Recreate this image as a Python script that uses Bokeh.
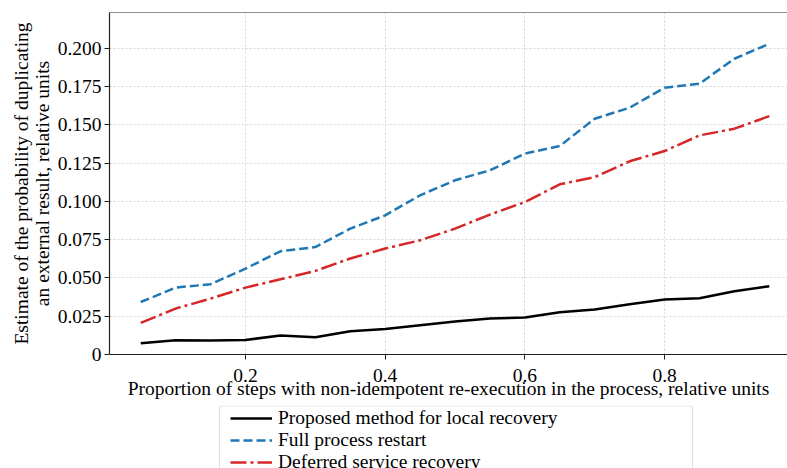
from bokeh.plotting import figure
from bokeh.layouts import column
from bokeh.models import (Range1d, FixedTicker, Legend, LegendItem, Span, PrintfTickFormatter,
                          BoxAnnotation)
from bokeh.embed import file_html
from bokeh.resources import INLINE

share = [0.05, 0.10, 0.15, 0.20, 0.25, 0.30, 0.35, 0.40, 0.45, 0.50,
         0.55, 0.60, 0.65, 0.70, 0.75, 0.80, 0.85, 0.90, 0.95]
proposed = [0.0074, 0.0093, 0.0091, 0.0095, 0.0124, 0.0113, 0.0152, 0.0167, 0.0191, 0.0215,
            0.0235, 0.0241, 0.0276, 0.0294, 0.0328, 0.0359, 0.0367, 0.0413, 0.0446]
full_restart = [0.0343, 0.0437, 0.0459, 0.0561, 0.0674, 0.0702, 0.0822, 0.0909, 0.1040, 0.1138,
                0.1203, 0.1312, 0.1362, 0.1540, 0.1612, 0.1743, 0.1769, 0.1932, 0.2030]
deferred = [0.0206, 0.0300, 0.0365, 0.0437, 0.0491, 0.0546, 0.0627, 0.0692, 0.0746, 0.0822,
            0.0914, 0.0996, 0.1112, 0.1159, 0.1262, 0.1329, 0.1431, 0.1475, 0.1557]
series_names = ["Proposed method for local recovery", "Full process restart", "Deferred service recovery"]
x_ticks = [0.2, 0.4, 0.6, 0.8]
y_ticks = [0.0, 0.025, 0.05, 0.075, 0.1, 0.125, 0.15, 0.175, 0.2]
x_title = "Proportion of steps with non-idempotent re-execution in the process, relative units"
y_title = "Estimate of the probability of duplicating\nan external result, relative units"

FONT = "Liberation Serif"
FS = "19.5px"
colors = ["black", "#1f77b4", "#d62728"]
dashes = ["solid", "9 4", "16 4 3 4"]
series = [proposed, full_restart, deferred]

# ---- main plot ----
p = figure(width=787, height=405, output_backend="svg", toolbar_location=None,
           x_range=Range1d(0.0053, 0.976), y_range=Range1d(0, 0.2234),
           min_border_left=109, min_border_right=0, min_border_top=12, min_border_bottom=51)
p.outline_line_color = None

for ys, c, d in zip(series, colors, dashes):
    p.line(share, ys, line_color=c, line_width=2.5, line_dash=d)

for ax in (p.xaxis[0], p.yaxis[0]):
    ax.axis_line_color = "#222222"
    ax.axis_line_width = 1.2
    ax.major_tick_line_color = "#222222"
    ax.major_tick_out = 5
    ax.major_tick_in = 0
    ax.minor_tick_line_color = None
    ax.major_label_text_font = FONT
    ax.major_label_text_font_size = FS
    ax.major_label_text_color = "black"
    ax.axis_label_text_font = FONT
    ax.axis_label_text_font_size = FS
    ax.axis_label_text_font_style = "normal"
    ax.axis_label_text_color = "black"

p.xaxis.ticker = FixedTicker(ticks=x_ticks)
p.yaxis.ticker = FixedTicker(ticks=y_ticks)
p.yaxis.formatter = PrintfTickFormatter(format="%.3f")
p.yaxis.major_label_overrides = {0: "0"}
p.xaxis.major_label_standoff = 9
p.yaxis.major_label_standoff = 3
p.xaxis.axis_label = x_title
p.xaxis.axis_label_standoff = -7
p.yaxis.axis_label = y_title
p.yaxis.axis_label_text_line_height = 1.0
p.yaxis.axis_label_standoff = 2

for g in (p.xgrid[0], p.ygrid[0]):
    g.grid_line_color = "#cccccc"
    g.grid_line_dash = "2 2"
    g.grid_line_width = 0.8

p.add_layout(Span(location=0.2234, dimension="width", line_color="#222222", line_width=1.2))

# ---- lower strip: legend whose box runs past the bottom edge ----
# the strip's frame is aligned with the main frame (canvas x 109..787); data units = canvas pixels
p2 = figure(width=787, height=63, output_backend="svg", toolbar_location=None,
            x_range=Range1d(109, 787), y_range=Range1d(0, 63),
            x_axis_location=None, y_axis_location=None,
            min_border_left=109, min_border_right=0, min_border_top=0, min_border_bottom=0)
p2.outline_line_color = None
p2.xgrid.visible = False
p2.ygrid.visible = False

p2.add_layout(BoxAnnotation(left=219, right=692, top=62.5, bottom=-10,
                            fill_color="white", fill_alpha=1.0,
                            line_color="#999999", line_width=1, border_radius=3))

# legend handles: same series, which fall outside this strip's ranges and are clipped away
handles = [p2.line(share, ys, line_color=c, line_width=2.5, line_dash=d)
           for ys, c, d in zip(series, colors, dashes)]
row_offsets = [39, 17, -5]   # bottom of each legend row, pixels above the strip's bottom
for name, h, off in zip(series_names, handles, row_offsets):
    lg = Legend(items=[LegendItem(label=name, renderers=[h])], location=(121, off))
    lg.label_text_font = FONT
    lg.label_text_font_size = FS
    lg.label_text_color = "black"
    lg.glyph_width = 42
    lg.glyph_height = 16
    lg.label_height = 16
    lg.padding = 0
    lg.margin = 0
    lg.label_standoff = 6
    lg.border_line_color = None
    lg.background_fill_alpha = 0.0
    p2.add_layout(lg)

layout = column(p, p2, spacing=0)
open("out.html", "w").write(file_html(layout, INLINE))
